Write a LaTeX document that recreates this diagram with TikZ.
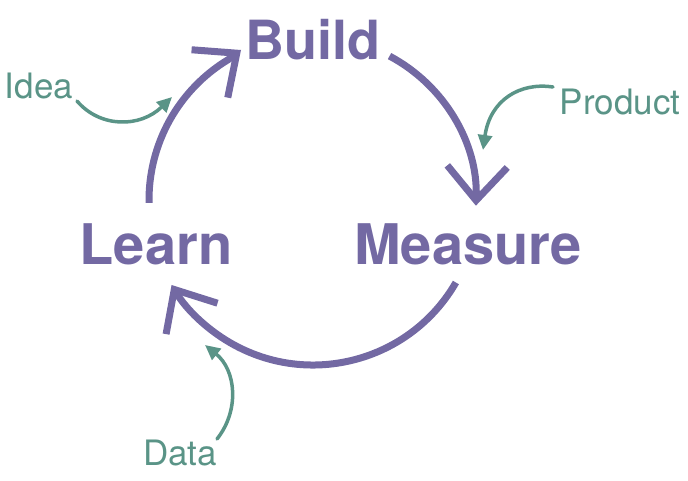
\documentclass[tikz,border=0pt]{standalone}
\usepackage{fontspec}
\setmainfont{TeX Gyre Heros}
\usetikzlibrary{arrows.meta}
\definecolor{cyclepurple}{RGB}{115,105,163}
\definecolor{inputgreen}{RGB}{90,148,135}
\tikzset{
  stage/.style={text=cyclepurple, font=\fontsize{56}{56}\selectfont\bfseries, inner sep=0pt, anchor=base},
  feed/.style={text=inputgreen, font=\fontsize{35}{35}\selectfont, inner sep=0pt, anchor=base},
  loop/.style={draw=cyclepurple, line width=7pt, line cap=butt,
    -{Straight Barb[length=34pt, width=60pt, line join=miter]}},
  inflow/.style={draw=inputgreen, line width=3.5pt, line cap=round,
    -{Triangle[length=15pt, width=14pt]}}
}
\begin{document}
\begin{tikzpicture}[x=1pt, y=1pt]
\useasboundingbox (0,0) rectangle (688,480);

% stages of the loop
\node[stage, font=\fontsize{54}{54}\selectfont\bfseries] (build) at (313,420) {Build};
\node[stage] (measure) at (468,216) {Measure};
\node[stage] (learn)   at (156,215) {Learn};

% inputs
\node[feed] (idea)    at (39,381)  {Idea};
\node[feed] (product) at (620,365) {Product};
\node[feed] (data)    at (180,15)  {Data};

% the loop: three arcs round a common centre
\coordinate (O) at (313,280);
\coordinate (buildtip) at (241,430);
\draw[loop] (O) ++(181:164) arc[start angle=181, end angle=121, radius=164] -- (buildtip);
\draw[loop] (O) ++(62:163)  arc[start angle=62,  end angle=-2,  radius=163];
\draw[loop] (O) ++(-30:165) arc[start angle=-30, end angle=-149, radius=165];

% inputs feeding the loop
\coordinate (ideaend)    at (172,383);
\coordinate (productend) at (483,330);
\coordinate (dataend)    at (205,135);
\draw[inflow] (77,379) .. controls (100,352) and (140,352) .. (ideaend);
\draw[inflow] (553,393) .. controls (520,398) and (490,380) .. (productend);
\draw[inflow] (217,41) .. controls (240,70) and (236,110) .. (dataend);
\end{tikzpicture}
\end{document}
